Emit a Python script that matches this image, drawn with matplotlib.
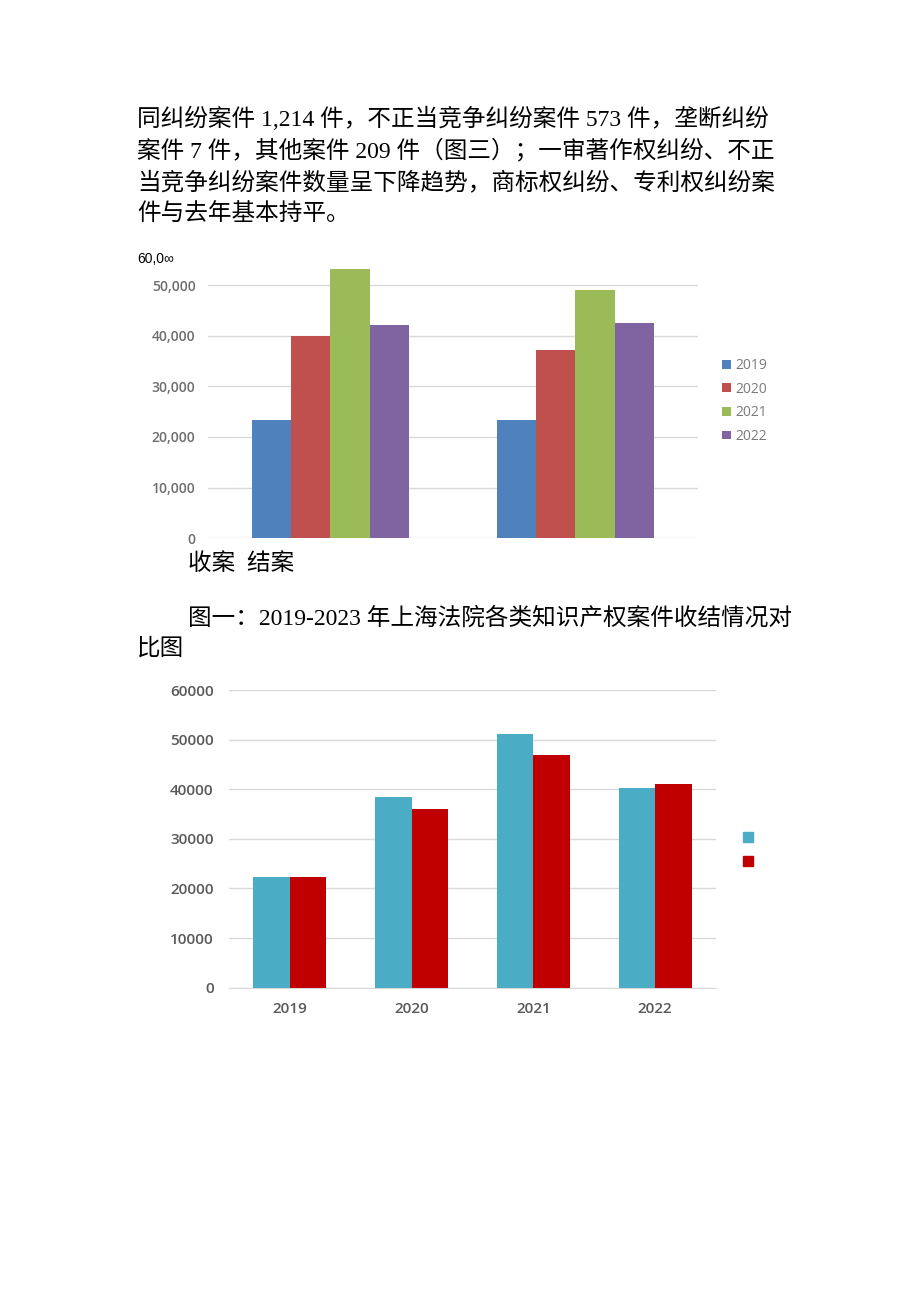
import matplotlib
matplotlib.use("Agg")
import matplotlib.pyplot as plt
import numpy as np
from matplotlib.patches import Patch

plt.rcParams['font.family'] = ['Open Sans', 'Noto Sans CJK SC', 'DejaVu Sans']

# ---------------- data ----------------
body_lines = [
    "同纠纷案件 1,214 件，不正当竞争纠纷案件 573 件，垄断纠纷",
    "案件 7 件，其他案件 209 件（图三）；一审著作权纠纷、不正",
    "当竞争纠纷案件数量呈下降趋势，商标权纠纷、专利权纠纷案",
    "件与去年基本持平。",
]
caption_lines = [
    "图一：2019-2023 年上海法院各类知识产权案件收结情况对",
    "比图",
]
chart1_categories = ["收案", "结案"]
chart1_years = ["2019", "2020", "2021", "2022"]
chart1_values = {
    "2019": [23400, 23350],
    "2020": [40000, 37200],
    "2021": [53100, 49000],
    "2022": [42100, 42600],
}
chart1_yticks = [0, 10000, 20000, 30000, 40000, 50000]
chart1_colors = ["#4F81BD", "#C0504D", "#9BBB59", "#8064A2"]

chart2_years = ["2019", "2020", "2021", "2022"]
chart2_series = ["收案", "结案"]
chart2_received = [22260, 38500, 51100, 40300]
chart2_closed = [22260, 36100, 46850, 41050]
chart2_yticks = [0, 10000, 20000, 30000, 40000, 50000, 60000]
chart2_colors = ["#4BACC6", "#C00000"]

W, H = 920, 1301
fig = plt.figure(figsize=(W / 100, H / 100), dpi=100)
fig.patch.set_facecolor("white")

def fx(px):
    return px / W

def fy(py):
    return 1 - py / H

body_font = ['Liberation Serif', 'Noto Sans CJK SC']
for i, line in enumerate(body_lines):
    fig.text(fx(137), fy(119 + 32 * i), line, fontsize=17, family=body_font,
             fontweight='light', va='center', ha='left', color='black')

fig.text(fx(188), fy(564), "收案  结案", fontsize=17, family=body_font,
         fontweight='light', va='center', ha='left', color='black')
fig.text(fx(188), fy(618), caption_lines[0], fontsize=17, family=body_font,
         fontweight='light', va='center', ha='left', color='black')
fig.text(fx(137), fy(649), caption_lines[1], fontsize=17, family=body_font,
         fontweight='light', va='center', ha='left', color='black')

fig.text(fx(137), fy(259), "60,0\u221e", fontsize=10, family=['Liberation Sans', 'DejaVu Sans'],
         va='center', ha='left', color='black')

# ---------------- chart 1 ----------------
ax1 = fig.add_axes([fx(208), fy(538.3), fx(698) - fx(208), (538.3 - 259.7) / H])
x1 = np.arange(len(chart1_categories))
bw1 = 0.16
for j, yr in enumerate(chart1_years):
    ax1.bar(x1 + (j - 1.5) * bw1, chart1_values[yr], width=bw1,
            color=chart1_colors[j], label=yr, zorder=3)
ax1.set_xlim(-0.5, 1.5)
ax1.set_ylim(0, 55000)
ax1.set_yticks(chart1_yticks)
ax1.set_yticklabels([f"{v:,}" for v in chart1_yticks])
ax1.set_xticks([])
ax1.grid(axis='y', color='#D9D9D9', linewidth=1.0, zorder=0)
for s in ax1.spines.values():
    s.set_visible(False)
ax1.tick_params(axis='y', length=0, pad=9, labelsize=10, labelcolor='#6E6E6E')
for lab in ax1.get_yticklabels():
    lab.set_fontweight('semibold')
leg1 = ax1.legend(loc='center left', bbox_to_anchor=(fx(710), fy(401)),
                  bbox_transform=fig.transFigure, frameon=False,
                  fontsize=10, handlelength=0.6, handleheight=0.6,
                  handletextpad=0.35, labelspacing=0.62)
for t in leg1.get_texts():
    t.set_color('#7A7A7A')

# ---------------- chart 2 ----------------
ax2 = fig.add_axes([fx(229), fy(987.7), fx(716) - fx(229), (987.7 - 690) / H])
x2 = np.arange(len(chart2_years))
bw2 = 0.30
ax2.bar(x2 - bw2 / 2, chart2_received, width=bw2, color=chart2_colors[0],
        label=chart2_series[0], zorder=3)
ax2.bar(x2 + bw2 / 2, chart2_closed, width=bw2, color=chart2_colors[1],
        label=chart2_series[1], zorder=3)
ax2.set_xlim(-0.5, 3.5)
ax2.set_ylim(0, 60000)
ax2.set_yticks(chart2_yticks)
ax2.set_yticklabels([str(v) for v in chart2_yticks])
ax2.set_xticks(x2)
ax2.set_xticklabels(chart2_years)
ax2.grid(axis='y', color='#D9D9D9', linewidth=1.0, zorder=0)
ax2.set_axisbelow(True)
for s in ax2.spines.values():
    s.set_visible(False)
ax2.spines['bottom'].set_visible(True)
ax2.spines['bottom'].set_color('#D9D9D9')
ax2.tick_params(axis='y', length=0, pad=11, labelsize=11, labelcolor='#595959')
ax2.tick_params(axis='x', length=0, pad=10, labelsize=11, labelcolor='#595959')
for lab in ax2.get_yticklabels() + ax2.get_xticklabels():
    lab.set_fontweight('semibold')
handles2 = [Patch(color=c) for c in chart2_colors]
leg2 = ax2.legend(handles2, ["", ""], loc='center left',
                  bbox_to_anchor=(fx(729), fy(851)),
                  bbox_transform=fig.transFigure, frameon=False,
                  fontsize=11, handlelength=0.65, handleheight=0.65,
                  handletextpad=0.0, labelspacing=0.6)

fig.savefig("out.png", dpi=100, facecolor='white')
